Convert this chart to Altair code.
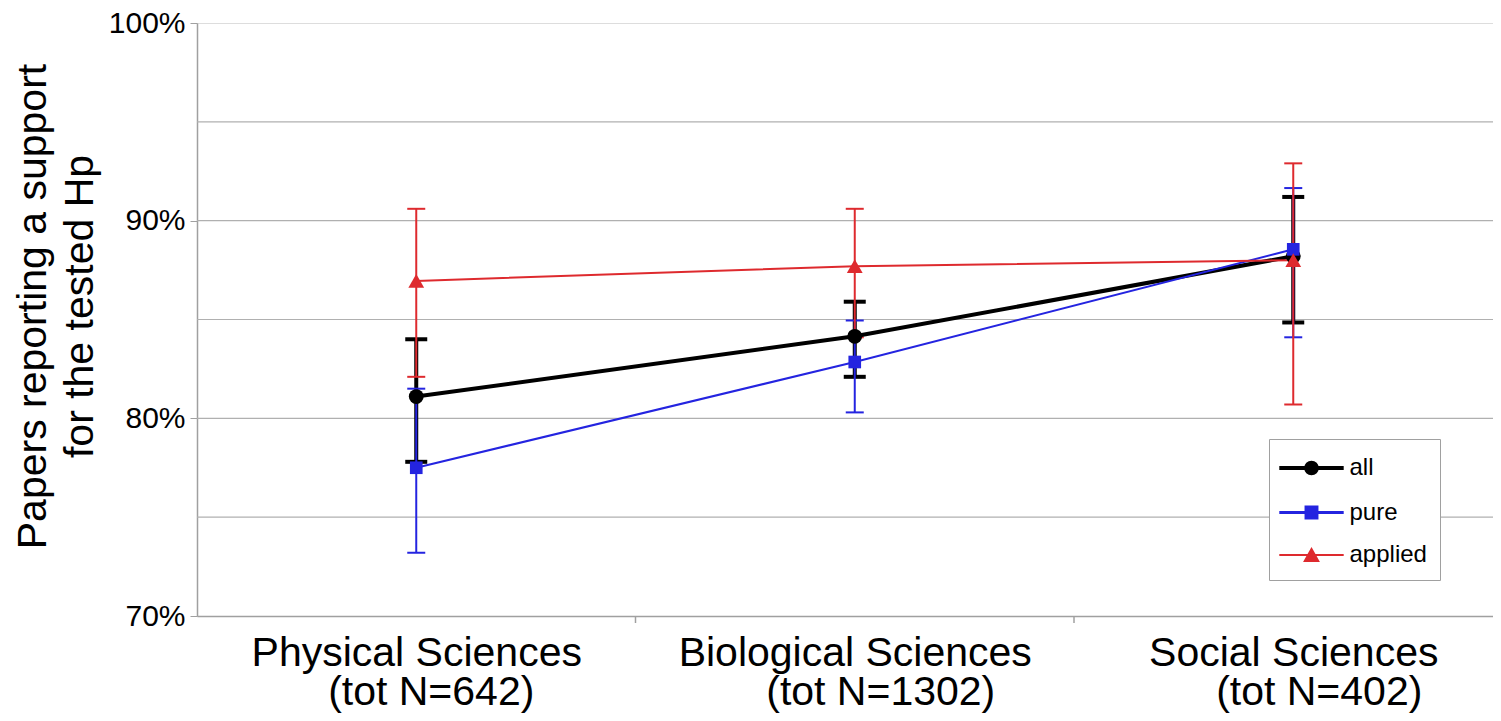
import altair as alt
import pandas as pd

FONT = "Liberation Sans"

categories = ["Physical Sciences", "Biological Sciences", "Social Sciences"]
n_labels = ["(tot N=642)", "(tot N=1302)", "(tot N=402)"]

series = ["all", "pure", "applied"]
colors = ["#000000", "#2424e0", "#de2a2e"]
shapes = ["circle", "square", "triangle-up"]

all_mean = [81.1, 84.15, 88.2]
all_lo = [77.8, 82.1, 84.85]
all_hi = [84.0, 85.9, 91.2]

pure_mean = [77.5, 82.85, 88.55]
pure_lo = [73.2, 80.3, 84.1]
pure_hi = [81.5, 84.95, 91.65]

applied_mean = [86.95, 87.7, 88.0]
applied_lo = [82.1, 84.1, 80.7]
applied_hi = [90.6, 90.6, 92.9]

y_ticks = [70, 80, 90, 100]
grid_values = [75, 80, 85, 90, 95]

# styles
line_widths = [4, 2, 2]
marker_sizes = [220, 160, 250]
cap_sizes = [22, 18, 18]
label2_dx = [15, 26, 26]  # horizontal shift of the second label line

rows = []
for s, means, los, his in [
    ("all", all_mean, all_lo, all_hi),
    ("pure", pure_mean, pure_lo, pure_hi),
    ("applied", applied_mean, applied_lo, applied_hi),
]:
    for i, c in enumerate(categories):
        rows.append(dict(series=s, cat=c, pos=i + 0.5, mean=means[i], lo=los[i], hi=his[i]))
df = pd.DataFrame(rows)

cat_df = pd.DataFrame({"cat": categories, "n": n_labels,
                       "pos": [i + 0.5 for i in range(len(categories))]})
grid_df = pd.DataFrame({"g": grid_values})
bound_df = pd.DataFrame({"b": list(range(1, len(categories)))})

W, H = 1296, 593
XMAX = W / 438.5
LABEL_SIZE = 41

label_array = "[" + ",".join("'%s'" % c for c in categories) + "]"

x_axis = alt.Axis(
    values=[i + 0.5 for i in range(len(categories))],
    labelExpr=label_array + "[floor(datum.value)]",
    ticks=False, grid=False, domainColor="#a0a0a0", domainWidth=1.5,
    labelFontSize=LABEL_SIZE, labelFont=FONT, labelColor="black", labelPadding=17,
    labelAngle=0, labelFlush=False, labelOverlap=False,
    labelLimit=0, title=None,
)
x_scale = alt.Scale(domain=[0, XMAX], nice=False, zero=False)

y_axis = alt.Axis(
    values=y_ticks, labelExpr="datum.value + '%'", grid=False,
    tickSize=7, tickColor="#a0a0a0", domainColor="#a0a0a0", domainWidth=1.5,
    labelFontSize=30, labelFont=FONT, labelColor="black", labelPadding=5,
    titleFontSize=41, titleFont=FONT, titleColor="black", titleFontWeight="normal",
    titlePadding=7, titleLineHeight=47, titleY=283, titleLimit=0,
)
y_scale = alt.Scale(domain=[70, 100], nice=False, zero=False)
Y_TITLE = ["Papers reporting a support", "for the tested Hp"]


def X(field):
    return alt.X(field, type="quantitative", scale=x_scale, axis=x_axis)


def Y(field):
    return alt.Y(field, type="quantitative", scale=y_scale, axis=y_axis, title=Y_TITLE)


# legend symbols: line + marker (unit = 14px)
def fmt(v):
    return ("%.3f" % v).rstrip("0").rstrip(".")

L = 2.3
r = 0.38
sq = 0.39
tw, th = 0.48, 0.42
p_all = "M-%s,0H%sM-%s,0A%s,%s 0 1,1 %s,0A%s,%s 0 1,1 -%s,0Z" % (
    fmt(L), fmt(L), fmt(r), fmt(r), fmt(r), fmt(r), fmt(r), fmt(r), fmt(r))
p_pure = "M-%s,0H%sM-%s,-%sH%sV%sH-%sZ" % (fmt(L), fmt(L), fmt(sq), fmt(sq), fmt(sq), fmt(sq), fmt(sq))
p_app = "M-%s,0H%sM0,-%sL%s,%sL-%s,%sZ" % (fmt(L), fmt(L), fmt(th), fmt(tw), fmt(th), fmt(tw), fmt(th))
legend_paths = [p_all, p_pure, p_app]

legend = alt.Legend(
    title=None, orient="none", legendX=1072, legendY=416,
    padding=13, symbolOffset=13.5, labelOffset=22, rowPadding=15,
    labelFontSize=24, labelFont=FONT, labelColor="black",
    strokeColor="#a0a0a0", fillColor="white", symbolSize=784,
    symbolOpacity=1,
)

base = alt.Chart(df)

grid = alt.Chart(grid_df).mark_rule(color="#b0b0b0", strokeWidth=1.2).encode(y=Y("g"))

bounds = alt.Chart(bound_df).mark_rule(color="#a0a0a0", strokeWidth=1.5).encode(
    x=X("b"), y=alt.value(H), y2=alt.value(H + 7)
)

# second line of each category label
n_layers = []
for i, c in enumerate(categories):
    n_layers.append(
        alt.Chart(cat_df).transform_filter(alt.datum.cat == c).mark_text(
            font=FONT, fontSize=LABEL_SIZE, color="black", align="center",
            baseline="alphabetic", dx=label2_dx[i],
        ).encode(x=X("pos"), y=alt.value(H + 89), text="n:N")
    )

err_layers = []
line_layers = []
point_layers = []
for i, s in enumerate(series):
    sub = base.transform_filter(alt.datum.series == s)
    err_layers.append(
        sub.mark_rule(color=colors[i], strokeWidth=line_widths[i]).encode(x=X("pos"), y=Y("lo"), y2="hi")
    )
    for fld in ("lo", "hi"):
        err_layers.append(
            sub.mark_tick(color=colors[i], thickness=line_widths[i], size=cap_sizes[i],
                          orient="horizontal", opacity=1).encode(x=X("pos"), y=Y(fld))
        )
    line_layers.append(
        sub.mark_line(color=colors[i], strokeWidth=line_widths[i]).encode(
            x=X("pos"), y=Y("mean"), order="pos:Q")
    )
    point_layers.append(
        sub.mark_point(filled=True, opacity=1, shape=shapes[i], size=marker_sizes[i],
                       color=colors[i]).encode(x=X("pos"), y=Y("mean"))
    )

# legend-only layer: draws no marks, provides the legend through its scales
legend_layer = base.transform_filter("false").mark_point(filled=True, opacity=1).encode(
    x=X("pos"), y=Y("mean"),
    fill=alt.Fill("series:N", scale=alt.Scale(domain=series, range=colors), legend=legend),
    stroke=alt.Stroke("series:N", scale=alt.Scale(domain=series, range=colors), legend=legend),
    shape=alt.Shape("series:N", scale=alt.Scale(domain=series, range=legend_paths), legend=legend),
    strokeWidth=alt.StrokeWidth("series:N", scale=alt.Scale(domain=series, range=line_widths), legend=legend),
)

chart = alt.layer(grid, bounds, *n_layers, *err_layers, *line_layers, *point_layers, legend_layer).properties(
    width=W, height=H,
    autosize=alt.AutoSizeParams(type="none"),
    padding={"left": 189, "top": 15, "right": 0, "bottom": 103},
).configure_view(stroke=None).configure(background="white")

chart.save("out.html", embed_options={"renderer": "svg", "actions": False})
